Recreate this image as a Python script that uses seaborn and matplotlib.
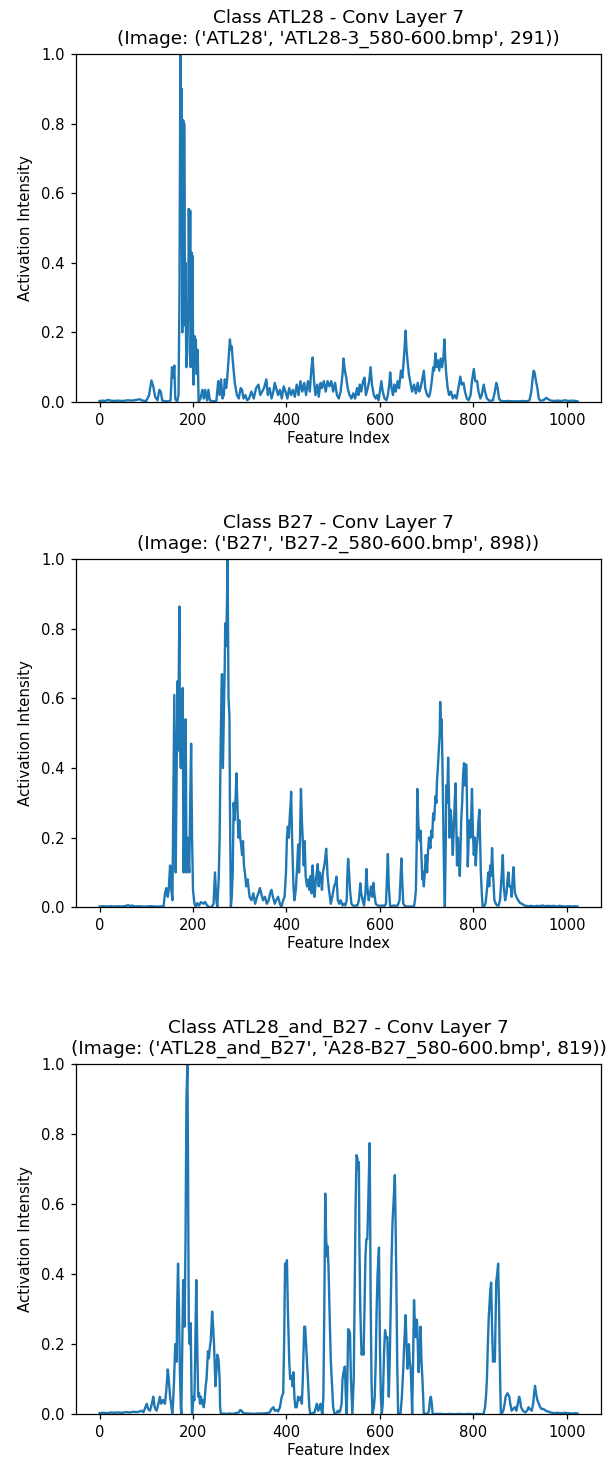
import matplotlib
matplotlib.use("Agg")
import matplotlib.pyplot as plt
import seaborn as sns
import pandas as pd

# Layer-7 activation profiles (feature index -> normalised intensity)
atl28_idx = [0, 6, 12, 18, 24, 32, 40, 50, 60, 70, 78, 86, 92, 100, 106, 111, 115, 119, 124, 128,
             131, 134, 140, 148, 152, 155, 158, 160, 162, 166, 169, 171, 173, 175, 176, 177, 178, 179, 180, 181,
             182, 183, 184, 185, 186, 188, 190, 191, 193, 194, 195, 197, 198, 199, 200, 201, 203, 205, 206, 208,
             210, 212, 216, 220, 223, 226, 230, 233, 236, 242, 250, 254, 257, 260, 263, 266, 268, 271, 273, 276,
             279, 281, 283, 285, 287, 290, 294, 298, 302, 305, 308, 312, 316, 320, 325, 330, 335, 340, 344, 348,
             352, 357, 360, 364, 368, 372, 375, 378, 382, 386, 390, 394, 398, 402, 406, 410, 414, 418, 422, 426,
             430, 434, 438, 442, 446, 450, 453, 456, 459, 462, 466, 469, 473, 476, 480, 484, 488, 492, 496, 500,
             504, 508, 512, 516, 520, 522, 525, 528, 531, 535, 539, 543, 547, 551, 554, 557, 560, 564, 567, 570,
             574, 577, 580, 583, 587, 591, 594, 597, 600, 603, 606, 610, 614, 617, 620, 622, 625, 628, 631, 634,
             638, 641, 645, 648, 651, 653, 655, 657, 659, 662, 666, 669, 673, 677, 681, 684, 687, 690, 694, 697,
             701, 705, 708, 711, 714, 716, 719, 721, 724, 727, 730, 733, 736, 738, 740, 742, 745, 748, 752, 756,
             760, 764, 768, 772, 775, 779, 782, 786, 790, 794, 797, 801, 804, 808, 811, 815, 818, 822, 825, 829,
             835, 842, 846, 849, 852, 855, 858, 865, 875, 885, 895, 905, 915, 920, 924, 927, 929, 931, 934, 937,
             940, 943, 950, 956, 960, 966, 972, 980, 988, 996, 1004, 1012, 1018, 1023]
atl28_val = [0.003, 0.004, 0.003, 0.006, 0.004, 0.003, 0.004, 0.003, 0.005, 0.004, 0.006, 0.008, 0.004, 0.003, 0.02, 0.062, 0.045, 0.015, 0.005, 0.035,
             0.03, 0.005, 0.002, 0.002, 0.005, 0.1, 0.07, 0.105, 0.01, 0.0, 0.02, 0.3, 1.0, 0.45, 0.9, 0.2, 0.62, 0.81, 0.35, 0.8,
             0.6, 0.22, 0.4, 0.2, 0.1, 0.15, 0.3, 0.555, 0.25, 0.55, 0.1, 0.43, 0.2, 0.42, 0.2, 0.05, 0.19, 0.1, 0.18, 0.08,
             0.15, 0.0, 0.01, 0.035, 0.01, 0.035, 0.005, 0.035, 0.005, 0.002, 0.003, 0.06, 0.02, 0.065, 0.01, 0.02, 0.065, 0.04, 0.065, 0.12,
             0.18, 0.15, 0.16, 0.12, 0.09, 0.05, 0.02, 0.01, 0.04, 0.035, 0.01, 0.02, 0.005, 0.01, 0.03, 0.01, 0.04, 0.05, 0.02, 0.03,
             0.04, 0.065, 0.02, 0.04, 0.01, 0.03, 0.055, 0.04, 0.02, 0.035, 0.01, 0.045, 0.03, 0.01, 0.04, 0.02, 0.035, 0.015, 0.05, 0.02,
             0.06, 0.03, 0.055, 0.02, 0.06, 0.03, 0.09, 0.128, 0.06, 0.02, 0.05, 0.015, 0.055, 0.04, 0.06, 0.03, 0.06, 0.045, 0.06, 0.03,
             0.055, 0.02, 0.01, 0.03, 0.08, 0.125, 0.09, 0.07, 0.04, 0.02, 0.01, 0.025, 0.01, 0.04, 0.02, 0.05, 0.03, 0.06, 0.07, 0.02,
             0.04, 0.06, 0.1, 0.05, 0.02, 0.01, 0.02, 0.005, 0.03, 0.06, 0.03, 0.01, 0.005, 0.02, 0.05, 0.085, 0.04, 0.02, 0.05, 0.03,
             0.06, 0.04, 0.09, 0.07, 0.12, 0.16, 0.205, 0.15, 0.12, 0.08, 0.05, 0.03, 0.05, 0.025, 0.055, 0.03, 0.04, 0.06, 0.09, 0.04,
             0.02, 0.015, 0.03, 0.06, 0.1, 0.09, 0.14, 0.1, 0.12, 0.09, 0.125, 0.1, 0.13, 0.18, 0.12, 0.08, 0.04, 0.02, 0.03, 0.01,
             0.02, 0.01, 0.04, 0.073, 0.05, 0.055, 0.03, 0.01, 0.005, 0.02, 0.06, 0.095, 0.06, 0.06, 0.03, 0.01, 0.02, 0.05, 0.03, 0.01,
             0.003, 0.005, 0.03, 0.055, 0.04, 0.01, 0.004, 0.002, 0.003, 0.002, 0.002, 0.003, 0.002, 0.005, 0.03, 0.07, 0.09, 0.085, 0.06, 0.04,
             0.01, 0.004, 0.005, 0.012, 0.008, 0.004, 0.003, 0.004, 0.003, 0.005, 0.003, 0.004, 0.003, 0.002]

b27_idx = [0, 8, 16, 24, 32, 40, 48, 56, 62, 66, 70, 76, 84, 92, 100, 110, 120, 130, 137, 140,
           143, 146, 148, 151, 153, 156, 158, 160, 162, 163, 165, 167, 168, 169, 171, 172, 174, 175, 176, 178,
           179, 180, 182, 184, 185, 186, 188, 190, 192, 194, 196, 198, 200, 203, 206, 209, 213, 217, 222, 226,
           230, 235, 240, 244, 247, 250, 252, 255, 257, 259, 261, 262, 264, 266, 268, 269, 271, 273, 274, 276,
           278, 279, 281, 283, 285, 287, 289, 291, 293, 295, 297, 299, 301, 303, 305, 307, 309, 311, 314, 317,
           321, 325, 329, 333, 337, 340, 343, 346, 350, 354, 358, 362, 365, 368, 371, 375, 378, 382, 386, 389,
           393, 396, 399, 401, 403, 405, 407, 409, 410, 412, 413, 415, 417, 420, 423, 425, 427, 429, 431, 433,
           435, 437, 439, 441, 444, 447, 449, 452, 454, 456, 458, 460, 463, 465, 467, 469, 471, 474, 476, 478,
           481, 483, 485, 487, 488, 491, 495, 498, 502, 505, 507, 509, 510, 513, 516, 520, 523, 526, 529, 530,
           532, 534, 536, 539, 542, 545, 549, 552, 555, 558, 560, 563, 566, 569, 571, 573, 576, 579, 581, 584,
           586, 588, 591, 595, 600, 605, 610, 613, 615, 617, 619, 622, 626, 630, 634, 638, 642, 644, 646, 648,
           650, 654, 659, 664, 669, 673, 675, 677, 679, 680, 682, 684, 686, 687, 689, 691, 692, 694, 696, 698,
           700, 701, 703, 705, 707, 708, 710, 712, 714, 716, 719, 721, 722, 724, 726, 728, 729, 731, 732, 734,
           735, 737, 739, 741, 742, 744, 746, 748, 749, 751, 753, 755, 756, 758, 760, 762, 764, 765, 767, 769,
           771, 773, 774, 776, 778, 780, 782, 783, 785, 787, 788, 790, 792, 794, 796, 797, 799, 801, 803, 805,
           807, 809, 811, 813, 815, 816, 818, 820, 823, 826, 829, 832, 834, 836, 838, 840, 842, 845, 848, 851,
           854, 857, 860, 863, 865, 868, 871, 873, 875, 877, 880, 882, 884, 886, 888, 889, 892, 896, 900, 904,
           908, 912, 918, 924, 930, 936, 942, 948, 954, 960, 966, 972, 978, 984, 990, 996, 1004, 1012, 1018, 1023]
b27_val = [0.002, 0.003, 0.002, 0.003, 0.002, 0.003, 0.002, 0.004, 0.006, 0.003, 0.005, 0.002, 0.003, 0.002, 0.002, 0.003, 0.002, 0.002, 0.003, 0.04,
           0.055, 0.03, 0.05, 0.12, 0.06, 0.02, 0.3, 0.61, 0.25, 0.1, 0.4, 0.65, 0.45, 0.6, 0.864, 0.5, 0.4, 0.6, 0.45, 0.63,
           0.3, 0.1, 0.35, 0.54, 0.4, 0.1, 0.2, 0.15, 0.1, 0.3, 0.47, 0.2, 0.05, 0.01, 0.0, 0.012, 0.005, 0.015, 0.01, 0.015,
           0.005, 0.0, 0.0, 0.01, 0.1, 0.02, 0.0, 0.08, 0.2, 0.45, 0.62, 0.67, 0.4, 0.55, 0.7, 0.816, 0.75, 0.9, 1.0, 0.6,
           0.55, 0.3, 0.0, 0.03, 0.1, 0.3, 0.25, 0.31, 0.385, 0.3, 0.2, 0.25, 0.2, 0.18, 0.15, 0.19, 0.12, 0.1, 0.06, 0.08,
           0.03, 0.02, 0.04, 0.01, 0.03, 0.04, 0.055, 0.04, 0.02, 0.03, 0.01, 0.02, 0.04, 0.05, 0.03, 0.01, 0.02, 0.03, 0.01, 0.0,
           0.02, 0.03, 0.1, 0.2, 0.232, 0.2, 0.26, 0.3, 0.332, 0.2, 0.15, 0.06, 0.02, 0.05, 0.12, 0.18, 0.1, 0.2, 0.34, 0.25,
           0.19, 0.12, 0.19, 0.09, 0.06, 0.08, 0.05, 0.09, 0.04, 0.12, 0.07, 0.03, 0.08, 0.1, 0.124, 0.06, 0.1, 0.08, 0.05, 0.1,
           0.12, 0.14, 0.168, 0.12, 0.09, 0.05, 0.01, 0.03, 0.06, 0.07, 0.088, 0.04, 0.02, 0.01, 0.02, 0.005, 0.01, 0.005, 0.02, 0.08,
           0.139, 0.1, 0.05, 0.01, 0.005, 0.004, 0.005, 0.005, 0.02, 0.069, 0.04, 0.02, 0.005, 0.04, 0.11, 0.06, 0.02, 0.04, 0.06, 0.03,
           0.07, 0.04, 0.01, 0.005, 0.004, 0.005, 0.004, 0.01, 0.08, 0.153, 0.06, 0.0, 0.004, 0.005, 0.004, 0.005, 0.02, 0.08, 0.14, 0.07,
           0.01, 0.003, 0.002, 0.002, 0.002, 0.003, 0.02, 0.05, 0.2, 0.34, 0.25, 0.2, 0.19, 0.22, 0.14, 0.08, 0.1, 0.06, 0.1, 0.15,
           0.12, 0.1, 0.16, 0.2, 0.18, 0.17, 0.22, 0.2, 0.27, 0.25, 0.32, 0.3, 0.36, 0.4, 0.45, 0.5, 0.59, 0.5, 0.54, 0.4,
           0.3, 0.12, 0.0, 0.2, 0.35, 0.3, 0.43, 0.3, 0.2, 0.28, 0.25, 0.18, 0.15, 0.22, 0.3, 0.356, 0.2, 0.12, 0.2, 0.15,
           0.09, 0.2, 0.25, 0.3, 0.38, 0.414, 0.35, 0.41, 0.41, 0.25, 0.117, 0.2, 0.25, 0.2, 0.3, 0.34, 0.22, 0.15, 0.2, 0.12,
           0.17, 0.2, 0.25, 0.28, 0.15, 0.1, 0.04, 0.0, 0.003, 0.01, 0.05, 0.1, 0.06, 0.12, 0.09, 0.17, 0.1, 0.02, 0.01, 0.005,
           0.005, 0.02, 0.08, 0.15, 0.06, 0.02, 0.04, 0.08, 0.1, 0.06, 0.06, 0.03, 0.08, 0.115, 0.06, 0.04, 0.03, 0.02, 0.012, 0.01,
           0.006, 0.004, 0.003, 0.004, 0.002, 0.004, 0.003, 0.005, 0.003, 0.004, 0.003, 0.004, 0.002, 0.004, 0.003, 0.002, 0.003, 0.002, 0.003, 0.002]

mix_idx = [0, 8, 16, 24, 32, 40, 48, 56, 64, 72, 80, 86, 90, 94, 98, 101, 104, 108, 112, 115,
           118, 122, 126, 129, 132, 135, 137, 140, 143, 146, 148, 151, 153, 156, 159, 162, 164, 165, 166, 168,
           170, 172, 174, 175, 177, 179, 181, 182, 184, 186, 188, 189, 190, 191, 193, 195, 197, 198, 201, 203,
           205, 207, 209, 211, 213, 215, 217, 219, 221, 223, 225, 227, 229, 231, 232, 234, 236, 238, 241, 243,
           245, 247, 248, 250, 252, 254, 255, 257, 258, 260, 265, 270, 278, 285, 292, 298, 301, 304, 307, 312,
           320, 330, 340, 350, 358, 364, 368, 372, 375, 379, 382, 386, 390, 393, 395, 397, 399, 401, 403, 404,
           406, 408, 410, 412, 413, 415, 417, 419, 422, 425, 428, 431, 433, 435, 437, 438, 440, 442, 444, 446,
           447, 449, 451, 455, 460, 463, 465, 468, 470, 473, 475, 477, 479, 481, 483, 485, 487, 488, 490, 492,
           493, 495, 497, 500, 503, 507, 510, 513, 515, 518, 520, 522, 525, 527, 529, 531, 532, 534, 536, 538,
           541, 544, 546, 548, 550, 552, 553, 555, 556, 558, 560, 561, 563, 565, 567, 569, 571, 573, 575, 578,
           579, 580, 582, 584, 587, 589, 591, 593, 595, 598, 599, 600, 602, 604, 606, 607, 609, 611, 613, 616,
           617, 619, 621, 623, 625, 627, 629, 632, 633, 635, 637, 639, 642, 644, 647, 650, 652, 655, 657, 659,
           661, 662, 664, 666, 668, 669, 671, 673, 675, 677, 679, 680, 682, 683, 685, 687, 689, 691, 693, 694,
           698, 702, 705, 707, 709, 711, 713, 720, 730, 740, 750, 760, 770, 780, 790, 800, 810, 818, 822, 825,
           827, 829, 831, 833, 834, 836, 838, 840, 842, 844, 846, 848, 849, 851, 853, 855, 856, 858, 859, 862,
           864, 867, 869, 871, 873, 875, 877, 879, 882, 885, 889, 892, 895, 898, 900, 902, 906, 911, 915, 918,
           921, 925, 928, 930, 932, 934, 937, 940, 943, 946, 950, 955, 961, 966, 972, 980, 988, 996, 1004, 1012,
           1018, 1023]
mix_val = [0.003, 0.004, 0.003, 0.005, 0.004, 0.005, 0.004, 0.006, 0.005, 0.007, 0.006, 0.008, 0.01, 0.006, 0.02, 0.03, 0.015, 0.01, 0.03, 0.05,
           0.02, 0.01, 0.03, 0.05, 0.03, 0.04, 0.04, 0.03, 0.07, 0.128, 0.1, 0.05, 0.03, 0.0, 0.08, 0.2, 0.18, 0.15, 0.3, 0.43,
           0.3, 0.12, 0.02, 0.0, 0.2, 0.383, 0.3, 0.25, 0.5, 0.9, 1.0, 0.8, 0.5, 0.25, 0.2, 0.26, 0.05, 0.0, 0.05, 0.04,
           0.2, 0.383, 0.2, 0.05, 0.06, 0.03, 0.05, 0.03, 0.04, 0.02, 0.04, 0.08, 0.1, 0.15, 0.18, 0.16, 0.19, 0.21, 0.293, 0.25,
           0.2, 0.12, 0.08, 0.12, 0.17, 0.16, 0.15, 0.1, 0.02, 0.0, 0.002, 0.001, 0.002, 0.001, 0.003, 0.005, 0.012, 0.01, 0.004, 0.002,
           0.002, 0.001, 0.002, 0.002, 0.003, 0.005, 0.015, 0.02, 0.01, 0.012, 0.008, 0.02, 0.05, 0.06, 0.2, 0.43, 0.4, 0.44, 0.3, 0.25,
           0.15, 0.1, 0.11, 0.1, 0.08, 0.12, 0.05, 0.02, 0.02, 0.05, 0.04, 0.05, 0.03, 0.1, 0.2, 0.25, 0.25, 0.2, 0.15, 0.1,
           0.08, 0.02, 0.0, 0.003, 0.005, 0.02, 0.03, 0.01, 0.02, 0.03, 0.01, 0.0, 0.05, 0.3, 0.63, 0.5, 0.45, 0.48, 0.42, 0.3,
           0.25, 0.15, 0.1, 0.02, 0.0, 0.003, 0.01, 0.005, 0.01, 0.03, 0.1, 0.12, 0.136, 0.05, 0.0, 0.15, 0.243, 0.24, 0.23, 0.1,
           0.0, 0.1, 0.35, 0.6, 0.74, 0.73, 0.7, 0.72, 0.5, 0.3, 0.2, 0.17, 0.19, 0.17, 0.3, 0.45, 0.5, 0.5, 0.6, 0.774,
           0.6, 0.35, 0.1, 0.0, 0.02, 0.05, 0.15, 0.3, 0.4, 0.476, 0.35, 0.2, 0.05, 0.0, 0.03, 0.08, 0.18, 0.24, 0.22, 0.22,
           0.15, 0.05, 0.15, 0.3, 0.45, 0.55, 0.6, 0.683, 0.6, 0.4, 0.15, 0.0, 0.002, 0.0, 0.05, 0.13, 0.2, 0.283, 0.2, 0.13,
           0.18, 0.2, 0.15, 0.13, 0.05, 0.0, 0.15, 0.326, 0.25, 0.22, 0.27, 0.25, 0.15, 0.12, 0.18, 0.25, 0.15, 0.1, 0.03, 0.0,
           0.002, 0.0, 0.01, 0.04, 0.05, 0.03, 0.0, 0.001, 0.001, 0.0, 0.001, 0.0, 0.001, 0.0, 0.001, 0.0, 0.001, 0.0, 0.002, 0.02,
           0.05, 0.1, 0.2, 0.28, 0.3, 0.35, 0.376, 0.25, 0.15, 0.18, 0.15, 0.3, 0.38, 0.4, 0.43, 0.3, 0.2, 0.05, 0.0, 0.005,
           0.01, 0.03, 0.05, 0.055, 0.06, 0.055, 0.05, 0.03, 0.01, 0.015, 0.02, 0.01, 0.03, 0.05, 0.04, 0.02, 0.01, 0.005, 0.01, 0.02,
           0.015, 0.01, 0.03, 0.06, 0.081, 0.06, 0.04, 0.03, 0.02, 0.015, 0.015, 0.01, 0.007, 0.005, 0.003, 0.004, 0.003, 0.004, 0.003, 0.002,
           0.003, 0.002]

panel_titles = [
    "Class ATL28 - Conv Layer 7\n(Image: ('ATL28', 'ATL28-3_580-600.bmp', 291))",
    "Class B27 - Conv Layer 7\n(Image: ('B27', 'B27-2_580-600.bmp', 898))",
    "Class ATL28_and_B27 - Conv Layer 7\n(Image: ('ATL28_and_B27', 'A28-B27_580-600.bmp', 819))",
]
panel_series = [(atl28_idx, atl28_val), (b27_idx, b27_val), (mix_idx, mix_val)]

plt.rcParams["font.family"] = ["DejaVu Sans"]
fig = plt.figure(figsize=(6.15, 14.64), dpi=100)

axes_boxes = [
    [0.123, 0.7254, 0.855, 0.2377],
    [0.123, 0.3803, 0.855, 0.2377],
    [0.123, 0.0340, 0.855, 0.2392],
]

for box, title, (idx, val) in zip(axes_boxes, panel_titles, panel_series):
    ax = fig.add_axes(box)
    df = pd.DataFrame({"Feature Index": idx, "Activation Intensity": val})
    sns.lineplot(data=df, x="Feature Index", y="Activation Intensity", ax=ax,
                 color="#1f77b4", linewidth=1.7, estimator=None)
    ax.set_ylim(0, 1)
    ax.set_xticks([0, 200, 400, 600, 800, 1000])
    ax.set_yticks([0.0, 0.2, 0.4, 0.6, 0.8, 1.0])
    ax.tick_params(labelsize=10.6, length=3.9, width=0.9, pad=3.9)
    ax.set_xlabel("Feature Index", fontsize=10.8, labelpad=2)
    ax.set_ylabel("Activation Intensity", fontsize=10.8, labelpad=6)
    ax.set_title(title, fontsize=13.3, pad=7.5)
    for s in ax.spines.values():
        s.set_linewidth(0.9)

fig.savefig("out.png", dpi=100)
